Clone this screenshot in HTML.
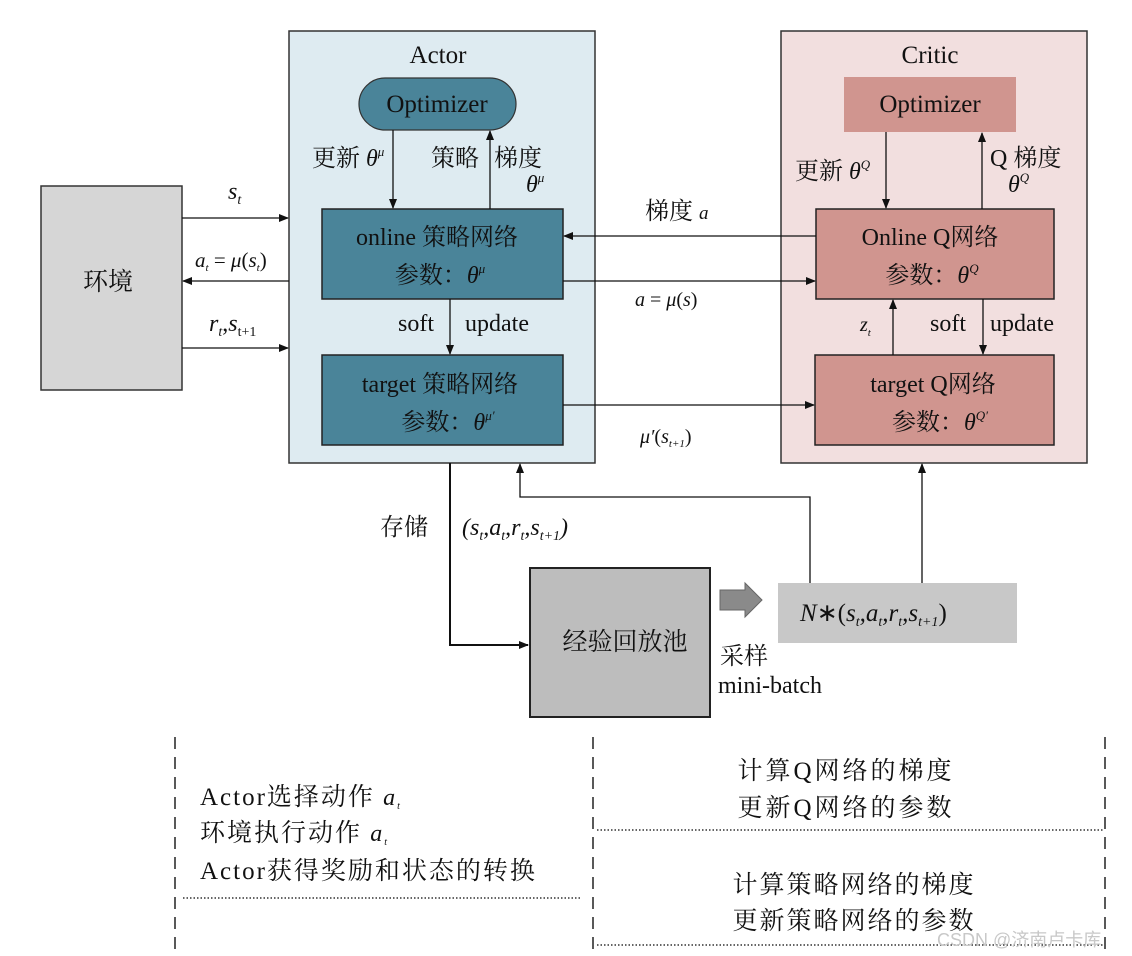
<!DOCTYPE html>
<html><head><meta charset="utf-8"><style>
html,body{margin:0;padding:0;background:#fff;}
svg{display:block;}
text{font-family:"Liberation Serif","Noto Serif CJK SC","Noto Sans CJK SC",serif;fill:#111;}
.it{font-style:italic;}
</style></head><body>
<svg width="1132" height="956" viewBox="0 0 1132 956" xmlns="http://www.w3.org/2000/svg">
<defs>
<marker id="ar" markerWidth="10" markerHeight="10" refX="9" refY="5" orient="auto" markerUnits="userSpaceOnUse">
<path d="M0,1 L10,5 L0,9 z" fill="#111"/></marker>
</defs>
<g font-size="24">
<!-- Environment -->
<rect x="41" y="186" width="141" height="204" fill="#d6d6d6" stroke="#333" stroke-width="1.5"/>
<text x="108" y="290" text-anchor="middle" font-size="25">环境</text>

<!-- Actor container -->
<rect x="289" y="31" width="306" height="432" fill="#deebf1" stroke="#333" stroke-width="1.5"/>
<text x="438" y="63" text-anchor="middle" font-size="25">Actor</text>
<rect x="359" y="78" width="157" height="52" rx="26" fill="#4a8499" stroke="#333" stroke-width="1.2"/>
<text x="437" y="112" text-anchor="middle" font-size="25">Optimizer</text>
<rect x="322" y="209" width="241" height="90" fill="#4a8499" stroke="#222" stroke-width="1.5"/>
<text x="437" y="245" text-anchor="middle">online 策略网络</text>
<text x="440" y="283" text-anchor="middle">参数：<tspan class="it">θ</tspan><tspan class="it" font-size="13" dy="-10">μ</tspan></text>
<rect x="322" y="355" width="241" height="90" fill="#4a8499" stroke="#222" stroke-width="1.5"/>
<text x="440" y="392" text-anchor="middle">target 策略网络</text>
<text x="448" y="430" text-anchor="middle">参数：<tspan class="it">θ</tspan><tspan class="it" font-size="13" dy="-10">μ′</tspan></text>
<line x1="393" y1="130" x2="393" y2="208" stroke="#111" stroke-width="1.3" marker-end="url(#ar)"/>
<line x1="490" y1="209" x2="490" y2="131" stroke="#111" stroke-width="1.3" marker-end="url(#ar)"/>
<text x="312" y="166">更新 <tspan class="it">θ</tspan><tspan class="it" font-size="13" dy="-10">μ</tspan></text>
<text x="431" y="166">策略</text>
<text x="494" y="166">梯度</text>
<text x="526" y="192" class="it">θ<tspan font-size="13" dy="-10">μ</tspan></text>
<line x1="450" y1="299" x2="450" y2="354" stroke="#111" stroke-width="1.3" marker-end="url(#ar)"/>
<text x="398" y="331">soft</text>
<text x="465" y="331">update</text>

<!-- Critic container -->
<rect x="781" y="31" width="306" height="432" fill="#f2dfdf" stroke="#333" stroke-width="1.5"/>
<text x="930" y="63" text-anchor="middle" font-size="25">Critic</text>
<rect x="844" y="77" width="172" height="55" fill="#d0958f"/>
<text x="930" y="112" text-anchor="middle" font-size="25">Optimizer</text>
<rect x="816" y="209" width="238" height="90" fill="#d0958f" stroke="#222" stroke-width="1.5"/>
<text x="930" y="245" text-anchor="middle">Online Q网络</text>
<text x="932" y="283" text-anchor="middle">参数：<tspan class="it">θ</tspan><tspan class="it" font-size="13" dy="-10">Q</tspan></text>
<rect x="815" y="355" width="239" height="90" fill="#d0958f" stroke="#222" stroke-width="1.5"/>
<text x="933" y="392" text-anchor="middle">target Q网络</text>
<text x="940" y="430" text-anchor="middle">参数：<tspan class="it">θ</tspan><tspan class="it" font-size="13" dy="-10">Q′</tspan></text>
<line x1="886" y1="132" x2="886" y2="208" stroke="#111" stroke-width="1.3" marker-end="url(#ar)"/>
<line x1="982" y1="209" x2="982" y2="133" stroke="#111" stroke-width="1.3" marker-end="url(#ar)"/>
<text x="795" y="179">更新 <tspan class="it">θ</tspan><tspan class="it" font-size="13" dy="-10">Q</tspan></text>
<text x="990" y="166">Q 梯度</text>
<text x="1008" y="192" class="it">θ<tspan font-size="13" dy="-10">Q</tspan></text>
<line x1="893" y1="355" x2="893" y2="300" stroke="#111" stroke-width="1.3" marker-end="url(#ar)"/>
<line x1="983" y1="299" x2="983" y2="354" stroke="#111" stroke-width="1.3" marker-end="url(#ar)"/>
<text x="860" y="331" class="it" font-size="20">z<tspan font-size="11" dy="5">t</tspan></text>
<text x="930" y="331">soft</text>
<text x="990" y="331">update</text>

<!-- env arrows -->
<line x1="182" y1="218" x2="288" y2="218" stroke="#111" stroke-width="1.3" marker-end="url(#ar)"/>
<line x1="289" y1="281" x2="183" y2="281" stroke="#111" stroke-width="1.3" marker-end="url(#ar)"/>
<line x1="182" y1="348" x2="288" y2="348" stroke="#111" stroke-width="1.3" marker-end="url(#ar)"/>
<text x="228" y="199" class="it">s<tspan font-size="14" dy="5">t</tspan></text>
<text x="195" y="267" class="it" font-size="21">a<tspan font-size="11" dy="4">t</tspan><tspan dy="-4" font-style="normal"> = </tspan>μ<tspan font-style="normal">(</tspan>s<tspan font-size="11" dy="4">t</tspan><tspan dy="-4" font-style="normal">)</tspan></text>
<text x="209" y="331" class="it">r<tspan font-size="14" dy="5">t</tspan><tspan dy="-5" font-style="normal">,</tspan>s<tspan font-size="14" dy="5" font-style="normal">t+1</tspan></text>

<!-- actor-critic arrows -->
<line x1="816" y1="236" x2="564" y2="236" stroke="#111" stroke-width="1.3" marker-end="url(#ar)"/>
<text x="645" y="219">梯度 <tspan class="it" font-size="19">a</tspan></text>
<line x1="563" y1="281" x2="815" y2="281" stroke="#111" stroke-width="1.3" marker-end="url(#ar)"/>
<text x="635" y="306" class="it" font-size="20">a<tspan font-style="normal"> = </tspan>μ<tspan font-style="normal">(</tspan>s<tspan font-style="normal">)</tspan></text>
<line x1="563" y1="405" x2="814" y2="405" stroke="#111" stroke-width="1.3" marker-end="url(#ar)"/>
<text x="640" y="443" class="it" font-size="20">μ′<tspan font-style="normal">(</tspan>s<tspan font-size="11" dy="4">t+1</tspan><tspan dy="-4" font-style="normal">)</tspan></text>

<!-- storage -->
<polyline points="450,463 450,645 528,645" fill="none" stroke="#111" stroke-width="2" marker-end="url(#ar)"/>
<text x="380" y="535">存储</text>
<text x="462" y="535" class="it">(<tspan>s</tspan><tspan font-size="14" dy="5">t</tspan><tspan dy="-5">,a</tspan><tspan font-size="14" dy="5">t</tspan><tspan dy="-5">,r</tspan><tspan font-size="14" dy="5">t</tspan><tspan dy="-5">,s</tspan><tspan font-size="14" dy="5">t+1</tspan><tspan dy="-5">)</tspan></text>
<rect x="530" y="568" width="180" height="149" fill="#bdbdbd" stroke="#222" stroke-width="2"/>
<text x="625" y="650" text-anchor="middle" font-size="25">经验回放池</text>
<path d="M720,590 L745,590 L745,583 L762,600 L745,617 L745,610 L720,610 z" fill="#8a8a8a" stroke="#666"/>
<rect x="778" y="583" width="239" height="60" fill="#c8c8c8"/>
<text x="800" y="621" class="it" font-size="25">N<tspan font-style="normal">∗(</tspan>s<tspan font-size="14" dy="5">t</tspan><tspan dy="-5">,a</tspan><tspan font-size="14" dy="5">t</tspan><tspan dy="-5">,r</tspan><tspan font-size="14" dy="5">t</tspan><tspan dy="-5">,s</tspan><tspan font-size="14" dy="5">t+1</tspan><tspan dy="-5" font-style="normal">)</tspan></text>
<text x="720" y="664">采样</text>
<text x="718" y="693">mini-batch</text>
<polyline points="810,583 810,497 520,497 520,464" fill="none" stroke="#111" stroke-width="1.3" marker-end="url(#ar)"/>
<line x1="922" y1="583" x2="922" y2="464" stroke="#111" stroke-width="1.3" marker-end="url(#ar)"/>

<!-- bottom panels -->
<g stroke="#222" stroke-width="1.5" stroke-dasharray="12,8">
<line x1="175" y1="737" x2="175" y2="956"/>
<line x1="593" y1="737" x2="593" y2="956"/>
<line x1="1105" y1="737" x2="1105" y2="956"/>
</g>
<g stroke="#333" stroke-width="1.5" stroke-dasharray="1.5,2">
<line x1="183" y1="898" x2="580" y2="898"/>
<line x1="597" y1="830" x2="1103" y2="830"/>
<line x1="597" y1="945" x2="1103" y2="945"/>
</g>
<g font-size="25" letter-spacing="2">
<text x="200" y="805">Actor选择动作 <tspan class="it" font-size="24">a</tspan><tspan class="it" font-size="10" dy="4">t</tspan></text>
<text x="200" y="841">环境执行动作 <tspan class="it" font-size="24">a</tspan><tspan class="it" font-size="10" dy="4">t</tspan></text>
<text x="200" y="879">Actor获得奖励和状态的转换</text>
<text x="846" y="779" text-anchor="middle" letter-spacing="3">计算Q网络的梯度</text>
<text x="846" y="816" text-anchor="middle" letter-spacing="3">更新Q网络的参数</text>
<text x="854" y="893" text-anchor="middle">计算策略网络的梯度</text>
<text x="854" y="929" text-anchor="middle">更新策略网络的参数</text>
</g>
<text x="937" y="946" font-size="18" style="fill:#c8c8c8;font-family:'Liberation Sans','Noto Sans CJK SC',sans-serif">CSDN @济南卢卡库</text>
</g>
</svg>
</body></html>
